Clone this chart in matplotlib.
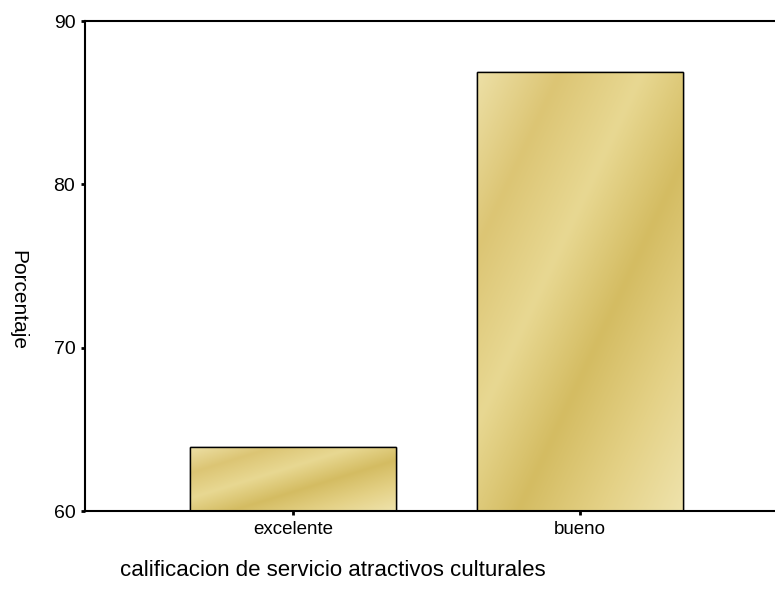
import matplotlib
matplotlib.use("Agg")
import matplotlib.pyplot as plt
import numpy as np
from matplotlib.colors import LinearSegmentedColormap

categories = ["excelente", "bueno"]
values = [63.9, 86.9]
yticks = [60, 70, 80, 90]
xlabel = "calificacion de servicio atractivos culturales"
ylabel = "Porcentaje"

plt.rcParams['font.family'] = ['Liberation Sans', 'DejaVu Sans']

fig = plt.figure(figsize=(7.75, 5.99), dpi=100)
ax = fig.add_axes([85/775, 88/599, 703/775, 490/599])

x = np.arange(len(categories))
bars = ax.bar(x, values, width=0.72, bottom=0, color='#DECA7C',
              edgecolor='black', linewidth=1.0, zorder=2)

cmap = LinearSegmentedColormap.from_list(
    'gold', ['#EDE0A6', '#DCC574', '#E8D892', '#D4BC62', '#E4D186', '#EFE3AC'])
uu, vv = np.meshgrid(np.linspace(0, 1, 200), np.linspace(0, 1, 200))
grad = np.clip((uu - vv + 1) / 2, 0, 1)
for b in bars:
    x0, w = b.get_x(), b.get_width()
    y1 = b.get_height()
    im = ax.imshow(grad, extent=[x0, x0 + w, 60, y1], origin='lower', aspect='auto',
                   cmap=cmap, zorder=2.5, interpolation='bicubic')
    im.set_clip_path(b)
    edge = plt.Rectangle((x0, 60), w, y1 - 60, fill=False, edgecolor='black',
                         linewidth=1.0, zorder=3)
    ax.add_patch(edge)

ax.set_xlim(-0.725, 1.725)
ax.set_ylim(60, 90)
ax.set_yticks(yticks)
ax.set_yticklabels([str(t) for t in yticks], fontsize=14)
ax.set_xticks(x)
ax.set_xticklabels(categories, fontsize=13.5)
ax.tick_params(axis='both', direction='out', length=3, width=2, color='black', pad=4)

for s in ['left', 'top', 'bottom']:
    ax.spines[s].set_linewidth(1.5)
ax.spines['right'].set_visible(False)

fig.text(18/775, 1 - 300/599, ylabel, rotation=-90, ha='center', va='center', fontsize=15)
fig.text(120/775, 1 - 570/599, xlabel, ha='left', va='center', fontsize=16)

fig.savefig("out.png", dpi=100)
